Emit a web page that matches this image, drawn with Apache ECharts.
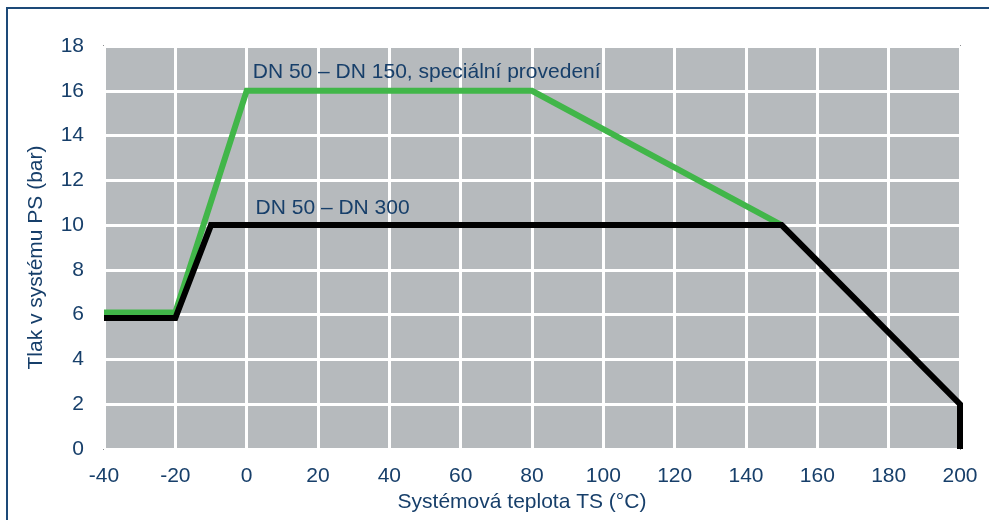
<!DOCTYPE html>
<html>
<head>
<meta charset="utf-8">
<script src="https://cdn.jsdelivr.net/npm/echarts@6/dist/echarts.min.js"></script>
<style>
html,body{margin:0;padding:0;background:#fff;}
#c{width:989px;height:520px;}
</style>
</head>
<body>
<div id="c"></div>
<script>
// Data
const xTicks = [-40, -20, 0, 20, 40, 60, 80, 100, 120, 140, 160, 180, 200];
const yTicks = [0, 2, 4, 6, 8, 10, 12, 14, 16, 18];
const greenName = 'DN 50 – DN 150, speciální provedení';
const greenX = [-40, -20, 0, 80, 150];
const greenY = [6.1, 6.1, 16, 16, 10];
const blackName = 'DN 50 – DN 300';
const blackX = [-40, -20, -10, 150, 200, 200];
const blackY = [5.85, 5.85, 10, 10, 2, 0];
const greenLabelAt = [1.7, 16.85];
const blackLabelAt = [2.5, 10.75];
const xTitle = 'Systémová teplota TS (°C)';
const yTitle = 'Tlak v systému PS (bar)';

const textColor = '#173f6a';
const font = 'Liberation Sans, Arial, sans-serif';
const fs = 21;

const chart = echarts.init(document.getElementById('c'));
chart.setOption({
  animation: false,
  backgroundColor: '#ffffff',
  graphic: [{
    type: 'rect', silent: true, z: 100,
    shape: {x: 7, y: 8, width: 1100, height: 700},
    style: {fill: 'none', stroke: '#1d4a78', lineWidth: 2}
  }],
  grid: {
    left: 104, right: 29, top: 46, bottom: 71,
    show: true, backgroundColor: '#b6babd',
    borderColor: '#8c8f91', borderWidth: 2
  },
  xAxis: {
    type: 'value', min: xTicks[0], max: xTicks[xTicks.length - 1], interval: 20,
    name: xTitle, nameLocation: 'middle', nameGap: 42,
    nameTextStyle: {color: textColor, fontSize: fs, fontFamily: font, padding: [0, 20, 0, 0]},
    axisLine: {show: false}, axisTick: {show: false},
    axisLabel: {color: textColor, fontSize: fs, fontFamily: font, margin: 17},
    splitLine: {show: true, lineStyle: {color: '#ffffff', width: 3}}
  },
  yAxis: {
    type: 'value', min: yTicks[0], max: yTicks[yTicks.length - 1], interval: 2,
    name: yTitle, nameLocation: 'middle', nameGap: 57, nameRotate: 90,
    nameTextStyle: {color: textColor, fontSize: fs, fontFamily: font, padding: [0, 20, 0, 0]},
    axisLine: {show: false}, axisTick: {show: false},
    axisLabel: {color: textColor, fontSize: fs, fontFamily: font, margin: 20},
    splitLine: {show: true, lineStyle: {color: '#ffffff', width: 3}}
  },
  series: [{
    name: greenName, type: 'line', showSymbol: false, symbol: 'none',
    data: greenX.map((x, i) => [x, greenY[i]]),
    lineStyle: {color: '#41b649', width: 6, join: 'miter'},
    markPoint: {
      symbol: 'circle', symbolSize: 0,
      data: [{coord: greenLabelAt}],
      label: {show: true, position: 'right', distance: 0, formatter: greenName,
        color: textColor, fontSize: fs, fontFamily: font}
    },
    z: 2
  }, {
    name: blackName, type: 'line', showSymbol: false, symbol: 'none',
    data: blackX.map((x, i) => [x, blackY[i]]),
    lineStyle: {color: '#000000', width: 6, join: 'miter'},
    markPoint: {
      symbol: 'circle', symbolSize: 0,
      data: [{coord: blackLabelAt}],
      label: {show: true, position: 'right', distance: 0, formatter: blackName,
        color: textColor, fontSize: fs, fontFamily: font}
    },
    z: 3
  }]
});
</script>
</body>
</html>
